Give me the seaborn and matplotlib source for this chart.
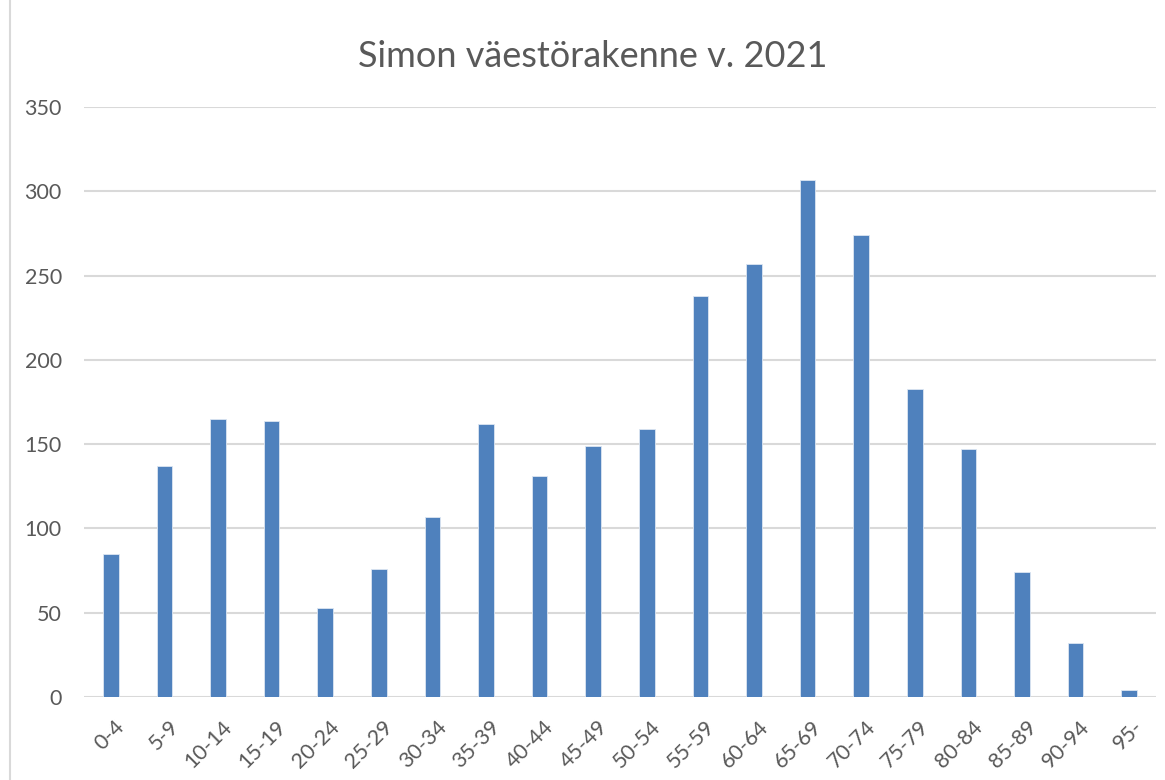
import matplotlib
matplotlib.use('Agg')
import matplotlib.pyplot as plt
import matplotlib.transforms as mtransforms
import seaborn as sns
import pandas as pd
from matplotlib.lines import Line2D

age_groups = ['0-4', '5-9', '10-14', '15-19', '20-24', '25-29', '30-34', '35-39',
              '40-44', '45-49', '50-54', '55-59', '60-64', '65-69', '70-74',
              '75-79', '80-84', '85-89', '90-94', '95-']
population = [85, 137, 165, 164, 53, 76, 107, 162, 131, 149, 159, 238, 257,
              307, 274, 183, 147, 74, 32, 4]
y_ticks = [0, 50, 100, 150, 200, 250, 300, 350]

df = pd.DataFrame({'ika': age_groups, 'vaesto': population})

sns.set_style('white')
plt.rcParams['font.family'] = ['Lato', 'DejaVu Sans']

fig = plt.figure(figsize=(11.65, 7.8), dpi=100)
ax = fig.add_axes([0.0721, 0.1064, 0.9202, 0.7564])

sns.barplot(data=df, x='ika', y='vaesto', color='#4F81BD', saturation=1,
            width=0.29, edgecolor='#DCE6F2', linewidth=0.6, ax=ax, zorder=3)

ax.set_ylim(0, 350)
ax.set_xlim(-0.5, len(age_groups) - 0.5)
ax.set_yticks(y_ticks)
ax.yaxis.grid(True, color='#D9D9D9', linewidth=1.5, zorder=0)
ax.set_axisbelow(True)
for s in ax.spines.values():
    s.set_visible(False)

ax.set_xlabel('')
ax.set_ylabel('')
ax.tick_params(axis='both', length=0, labelsize=15.5, labelcolor='#595959')
ax.tick_params(axis='y', pad=16)
ax.set_xticks(range(len(age_groups)))
ax.set_xticklabels(age_groups, rotation=45, ha='right', rotation_mode='anchor')
ax.tick_params(axis='x', pad=14)

# nudge rotated labels so their ends sit just right of the bars
shift = mtransforms.ScaledTranslation(4 / 100, 0, fig.dpi_scale_trans)
for lbl in ax.get_xticklabels():
    lbl.set_transform(lbl.get_transform() + shift)

fig.text(0.509, 0.928, 'Simon väestörakenne v. 2021', ha='center', va='center',
         fontsize=26, color='#595959')

# chart area border on the left
fig.add_artist(Line2D([0.0086, 0.0086], [0, 1], color='#D9D9D9', linewidth=1.5,
                      transform=fig.transFigure))

fig.savefig('out.png', dpi=100, facecolor='white')
